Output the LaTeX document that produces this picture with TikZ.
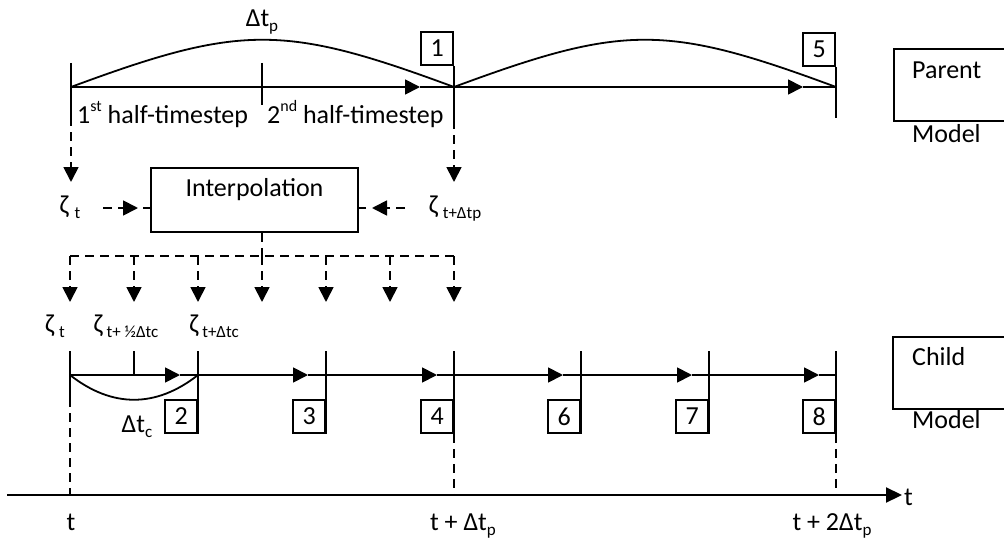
\documentclass[tikz,border=0pt]{standalone}
\usepackage{fontspec}
\setmainfont{Carlito}
\usetikzlibrary{arrows.meta}
\newcommand\mysub[1]{\raisebox{-5pt}{\fontsize{17}{17}\selectfont #1}}
\newcommand\mysup[1]{\raisebox{12pt}{\fontsize{16}{16}\selectfont #1}}
\begin{document}
\begin{tikzpicture}[x=1pt,y=-1pt,
  font=\fontsize{26}{30}\selectfont,
  ln/.style={line width=1.8pt},
  dl/.style={line width=1.8pt, dash pattern=on 9pt off 6pt},
  tip/.style={-{Triangle[length=15pt,width=15pt]}},
  numbox/.style={draw, line width=1.8pt, minimum width=32pt, minimum height=33pt, inner sep=0pt},
  modelbox/.style={draw, line width=1.8pt, anchor=north west, minimum width=125pt, minimum height=72pt, inner sep=0pt},
  txt/.style={inner sep=0pt, anchor=base},
]
\useasboundingbox (0,0) rectangle (1004,543);
\clip (0,0) rectangle (1004,543);

% ---------- Parent model timeline ----------
\coordinate (P0) at (71,87);
\coordinate (Pm) at (262,87);
\coordinate (P1) at (454,87);
\coordinate (P2) at (836,87);
\coordinate (P0t) at (71,63);
\coordinate (P0b) at (71,117);
\coordinate (P0a) at (71,182);
\coordinate (Pmt) at (262,63);
\coordinate (Pmb) at (262,105);
\coordinate (P1b) at (454,120);
\coordinate (P1a) at (454,182);
\coordinate (P2b) at (836,118);
\coordinate (PA1) at (420,87);
\coordinate (PA2) at (803,87);

\draw[ln] (P0t) -- (P0b);
\draw[dl,tip] (P0b) -- (P0a);
\draw[ln] (Pmt) -- (Pmb);
\node[numbox, anchor=north east] (b1) at (454,31) {1};
\draw[ln] (b1.south east) -- (P1b);
\draw[dl,tip] (P1b) -- (P1a);
\node[numbox, anchor=north east] (b5) at (836,32) {5};
\draw[ln] (b5.south east) -- (P2b);

\draw[ln,tip] (P0) -- (PA1);
\draw[ln] (PA1) -- (P1);
\draw[ln,tip] (P1) -- (PA2);
\draw[ln] (PA2) -- (P2);
\draw[ln] (P0) .. controls (241,24) and (284,24) .. (P1);
\draw[ln] (P1) .. controls (624,24) and (666,24) .. (P2);

\node[txt] (dtp) at (262,27) {Δt\mysub{p}};
\node[txt, anchor=base west] (h1) at (77,123) {1\mysup{st} half-timestep};
\node[txt, anchor=base west] (h2) at (267,123) {2\mysup{nd} half-timestep};

% ---------- Interpolation ----------
\node[draw, ln, minimum width=207pt, minimum height=64pt, inner sep=0pt] (interp) at (254.5,200) {};
\node[txt] (interpT) at (254.5,196) {Interpolation};

\node[txt] (zt1) at (70,213) {ζ\hspace{6pt}\mysub{t}};
\node[txt] (ztp) at (455,213) {ζ\hspace{5pt}\mysub{t+Δtp}};

\coordinate (zLs) at (103,208);
\coordinate (zLt) at (138,208);
\coordinate (zLe) at (143,208);
\draw[dl,tip] (zLs) -- (zLt);
\draw[ln] (zLe) -- (interp.west |- zLe);
\coordinate (zRs) at (405,208);
\coordinate (zRt) at (372,208);
\coordinate (zRe) at (366,208);
\draw[dl,tip] (zRs) -- (zRt);
\draw[ln] (zRe) -- (interp.east |- zRe);

\coordinate (iB) at ([xshift=7.5pt]interp.south);
\coordinate (fanC) at (262,256);
\coordinate (fanL) at (70,256);
\coordinate (fanR) at (454,256);
\draw[dl] (iB) -- (fanC);
\draw[dl] (fanL) -- (fanR);
\foreach \x in {70,134,198,262,326,390,454}{
  \coordinate (fs\x) at (\x,256);
  \coordinate (fe\x) at (\x,302);
  \draw[dl,tip] (fs\x) -- (fe\x);
}

\node[txt] (zc1) at (55,332) {ζ\hspace{5pt}\mysub{t}};
\node[txt] (zc2) at (126,332) {ζ\hspace{4pt}\mysub{t+ ½Δtc}};
\node[txt] (zc3) at (214,332) {ζ\hspace{4pt}\mysub{t+Δtc}};

% ---------- Child model timeline ----------
\coordinate (C0) at (70,375);
\coordinate (C0t) at (70,351);
\coordinate (C0b) at (70,398);
\coordinate (C0x) at (70,495);
\coordinate (Cht) at (134,351);
\coordinate (Chb) at (134,375);
\draw[ln] (C0t) -- (C0b);
\draw[dl] (C0b) -- (C0x);
\draw[ln] (Cht) -- (Chb);

\foreach \x/\n in {198/2,326/3,454/4,581/6,709/7,836/8}{
  \coordinate (ct\n) at (\x,351);
  \node[numbox, anchor=north east] (c\n) at (\x,399) {\n};
  \draw[ln] (ct\n) -- (c\n.south east);
}
\coordinate (C4x) at (454,495);
\coordinate (C8x) at (836,495);
\draw[dl] (c4.south east) -- (C4x);
\draw[dl] (c8.south east) -- (C8x);

\coordinate (CE) at (836,375);
\coordinate (a1) at (180,375);
\coordinate (a2) at (308,375);
\coordinate (a3) at (437,375);
\coordinate (a4) at (563,375);
\coordinate (a5) at (692,375);
\coordinate (a6) at (819,375);
\draw[ln,tip] (C0) -- (a1);
\draw[ln,tip] (a1) -- (a2);
\draw[ln,tip] (a2) -- (a3);
\draw[ln,tip] (a3) -- (a4);
\draw[ln,tip] (a4) -- (a5);
\draw[ln,tip] (a5) -- (a6);
\draw[ln] (a6) -- (CE);
\coordinate (C2) at (198,375);
\draw[ln] (C0) .. controls (112,408) and (156,408) .. (C2);
\node[txt] (dtc) at (137,432) {Δt\mysub{c}};

% ---------- time axis ----------
\coordinate (T0) at (7,495);
\coordinate (T1) at (902,495);
\draw[line width=2.2pt, -{Triangle[length=16pt,width=15pt]}] (T0) -- (T1);
\node[txt, anchor=base west] (tax) at (904,505) {t};
\node[txt] (l1) at (71,530) {t};
\node[txt] (l2) at (463,530) {t + Δt\mysub{p}};
\node[txt] (l3) at (832,530) {t + 2Δt\mysub{p}};

% ---------- model boxes ----------
\node[modelbox] (pbox) at (893,48) {};
\node[txt, anchor=base west] (pt) at (912,78) {Parent};
\node[txt, anchor=base west] (pm) at (912,142) {Model};
\node[modelbox] (cbox) at (892,336) {};
\node[txt, anchor=base west] (ct) at (912,365) {Child};
\node[txt, anchor=base west] (cm) at (912,428) {Model};
\end{tikzpicture}
\end{document}
